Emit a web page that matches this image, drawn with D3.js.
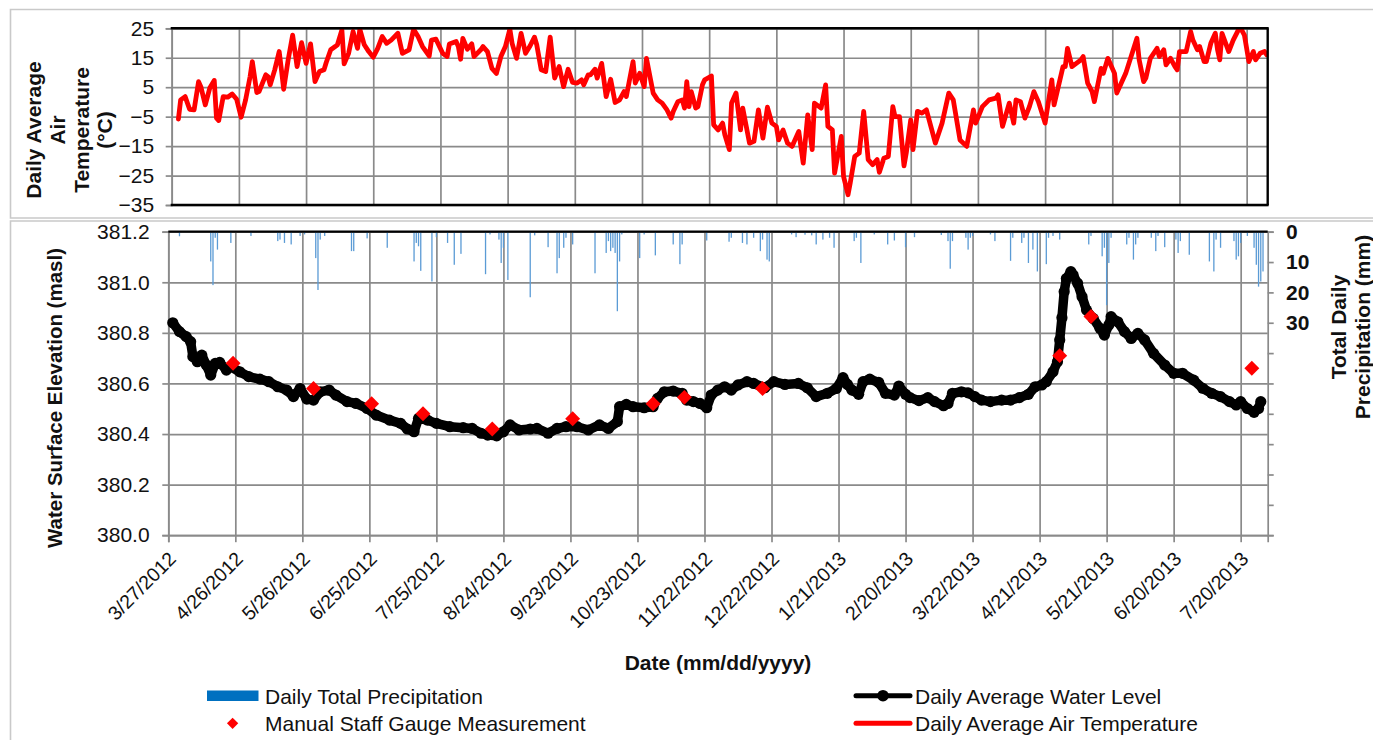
<!DOCTYPE html>
<html><head><meta charset="utf-8">
<script src="https://cdn.jsdelivr.net/npm/d3@7"></script>
<style>
html,body{margin:0;padding:0;background:#fff;}
svg{display:block;font-family:"Liberation Sans",Arial,sans-serif;}
</style></head><body>
<svg id="chart" width="1373" height="740"></svg>
<script>
// ---------------- DATA ----------------
const startDate = "3/27/2012";
const tickLabels = ["3/27/2012","4/26/2012","5/26/2012","6/25/2012","7/25/2012","8/24/2012","9/23/2012",
  "10/23/2012","11/22/2012","12/22/2012","1/21/2013","2/20/2013","3/22/2013","4/21/2013","5/21/2013",
  "6/20/2013","7/20/2013"];
const tempTicks = [25,15,5,-5,-15,-25,-35];
const levelTicks = [381.2,381.0,380.8,380.6,380.4,380.2,380.0];
const precipTicks = [0,10,20,30,40,50,60,70,80,90,100];
const precipLabelled = [0,10,20,30];

// Daily average air temperature (days after 3/27/2012, °C)
const tempDays = [3,4,6,8,10,12,13,15,17,19,
  20,21,23,25,27,29,31,33,35,36,
  38,39,42,43,44,46,48,49,50,52,
  54,56,58,60,62,64,66,68,69,71,
  73,74,76,77,79,81,83,84,86,88,
  90,92,94,96,98,101,103,106,108,110,
  112,115,116,118,121,123,124,127,128,129,
  130,132,134,135,138,139,141,143,145,147,
  149,151,152,154,156,158,160,162,163,165,
  167,169,171,173,175,177,179,181,183,184,
  186,187,189,190,192,194,196,198,200,202,
  203,206,207,209,211,212,215,217,219,221,
  223,224,226,228,229,230,231,232,234,235,
  237,238,241,242,244,246,247,249,250,252,
  254,255,258,260,262,264,266,268,270,271,
  273,275,277,280,282,284,286,287,290,292,
  293,295,296,299,300,302,303,305,307,309,
  311,313,315,316,318,320,322,323,325,327,
  328,330,331,333,335,337,341,344,347,349,
  352,355,358,359,362,365,368,369,371,374,
  376,377,379,381,383,385,387,390,393,394,
  398,399,400,402,406,407,409,411,412,415,
  416,418,421,422,426,431,432,434,435,437,
  440,441,443,444,446,448,449,450,453,455,
  456,458,459,461,462,464,466,467,468,469,
  472,474,477,479,481,483,484,486,488,489];
const tempValues = [-5.8,0.7,1.8,-2.5,-2.7,6.9,5.2,-1,4.7,7.3,
  -5.5,-6.3,1.8,1.6,2.7,0.9,-5.2,0.7,8.6,13.7,
  3.2,3.5,9.2,8.6,5.8,10.9,17.1,10.9,4.3,14.3,
  22.7,12,20.1,13.1,19.7,6.9,10.3,10.9,13.4,17.7,
  18.8,19.4,24.4,12.9,16.5,23.9,18.2,24.7,19.4,17.1,
  15.2,18.2,22.2,19.9,21,23.3,16.5,17.7,24.7,22.2,
  18.8,15.6,21,21.3,16.5,15.4,19.7,20.5,18.8,14.5,
  21.6,17.9,19.7,15.4,17.7,18.8,17.1,11.4,9.7,15.4,
  18.8,24.7,19.9,14.8,23.3,16.5,19,22,19.4,10.9,
  10.3,22,8.1,12,5.2,11.1,6.6,6.4,7.5,5.8,
  9.2,9.2,11.1,8.1,13.1,1.8,7.7,-0.2,0.7,3.5,
  1.8,13.7,6.4,9.7,5.2,14.8,3,0.7,-0.4,-2.5,
  -5.5,-3.2,0.1,0.7,-2.1,6.9,-1.6,3.5,-2.1,-1.6,
  5.8,7.5,8.8,-7.8,-9.5,-7.2,-11.2,-16.2,-0.4,3,
  -9.5,-2.1,-14,-13.4,-2.7,-12.3,-1.8,-7.2,-8.3,-12.9,
  -9.5,-14,-15.1,-10,-20.8,-4.4,-16.2,-0.4,-2.1,5.8,
  -8.3,-9.5,-24.2,-11.7,-25.3,-31.5,-27.5,-18.5,-17.4,-3.2,
  -19.6,-21.3,-19.6,-23.9,-19.1,-18.5,-1.6,-5,-5,-21.7,
  -17.4,-6.1,-16.2,-3.2,-3.8,-2.7,-14,-7.2,3,0.7,
  -12.9,-15.1,-2.7,-7.2,-1.6,0.7,1.3,2.4,-8.3,-0.4,
  -7.2,0.7,0.1,-5.5,-1.6,3.5,0.1,-7.2,7.5,-1,
  12,12,18.2,12,14.3,15.4,6.4,3.5,0.1,11.4,
  9.7,14.8,9.7,3,9.7,21.6,14.3,6.9,8.1,14.8,
  18.2,15.4,17.7,12.6,14.8,12,10.9,17.1,17.1,23.9,
  21,17.7,18.8,13.7,13.7,19.9,23.3,17.7,14.3,23.3,
  17.1,21,25.5,22.7,13.7,17.1,14.3,16.5,17.1,16];

// Daily average water level (days after 3/27/2012, masl)
const levelDays = [2,5,8,10,11,13,15,17,19,21,
  23,26,28,32,36,41,45,49,53,56,
  59,62,65,68,72,75,80,84,89,93,
  99,104,107,110,112,116,120,126,132,136,
  140,143,147,150,153,157,162,165,170,174,
  178,183,188,193,197,201,202,205,208,213,
  217,219,222,226,230,232,235,238,241,243,
  246,249,252,255,259,262,267,271,276,282,
  286,290,295,299,302,304,306,309,311,314,
  318,321,325,327,330,332,336,340,343,347,
  349,351,355,358,361,364,368,373,377,381,
  385,388,391,393,396,398,399,400,401,402,
  404,405,407,409,411,414,417,419,421,422,
  425,428,431,434,437,441,446,450,454,459,
  463,467,471,475,478,480,483,486,488,489];
const levelValues = [380.84,380.805,380.785,380.765,380.706,380.686,380.712,380.673,380.633,380.679,
  380.683,380.653,380.666,380.646,380.627,380.617,380.607,380.587,380.574,380.548,
  380.58,380.538,380.534,380.567,380.574,380.554,380.528,380.521,380.501,380.475,
  380.455,380.442,380.42,380.409,380.462,380.455,380.442,380.429,380.425,380.422,
  380.403,380.396,380.393,380.409,380.436,380.416,380.42,380.422,380.403,380.422,
  380.429,380.429,380.416,380.436,380.422,380.449,380.508,380.517,380.508,380.504,
  380.508,380.541,380.567,380.57,380.561,380.534,380.528,380.521,380.504,380.554,
  380.574,380.587,380.574,380.594,380.607,380.6,380.583,380.607,380.596,380.6,
  380.583,380.548,380.561,380.58,380.623,380.596,380.574,380.557,380.607,380.617,
  380.604,380.561,380.554,380.59,380.557,380.544,380.532,380.544,380.528,380.512,
  380.521,380.561,380.567,380.563,380.548,380.534,380.528,380.534,380.534,380.544,
  380.557,380.587,380.594,380.607,380.646,380.686,380.772,380.86,380.963,381.015,
  381.042,381.029,380.996,380.943,380.89,380.857,380.818,380.791,380.831,380.864,
  380.844,380.805,380.778,380.798,380.772,380.719,380.673,380.64,380.64,380.613,
  380.581,380.561,380.548,380.528,380.515,380.528,380.501,380.486,380.501,380.528];

// Manual staff gauge measurements
const gaugeDays = [29,65,91,114,145,181,217,231,266,399,413,485];
const gaugeValues = [380.68,380.58,380.52,380.48,380.42,380.46,380.52,380.545,380.58,380.71,380.865,380.66];

// Daily total precipitation (days after 3/27/2012, mm)
const precipDays = [5,19,20,21,22,28,37,49,50,52,
  55,59,61,66,67,68,70,82,83,89,
  98,101,110,111,112,113,118,120,125,128,
  131,142,144,148,149,150,152,162,164,170,
  174,175,177,178,181,191,196,197,198,199,
  200,201,202,203,211,213,218,226,229,230,
  241,251,252,257,259,262,265,266,268,269,
  279,281,285,288,290,293,296,298,307,308,
  310,316,322,325,330,334,346,349,350,351,
  357,358,359,360,368,370,377,378,382,383,
  385,387,389,393,394,396,399,412,413,418,
  419,420,421,422,429,430,432,433,434,440,
  442,443,446,451,452,453,457,466,468,469,
  471,477,478,479,480,483,486,487,488,489,490];
const precipValues = [1.5,9.8,17.6,2,5.9,3.7,1.4,3.1,2.6,3.7,
  4.2,1.4,0.9,8.7,19.2,2.6,1.4,6.4,6.4,2.2,
  5.3,0.3,9.8,3.7,4.8,12.9,16.4,1.8,3.7,10.9,
  7.3,14,0.9,2.6,10.3,5.3,15.9,21.6,1.2,5.1,
  13.7,8.7,5.3,2,4.2,13.7,7,3.1,6.4,5.3,
  7,26.2,9.8,0.9,8.7,0.9,7.8,4.2,10.7,4.2,
  2.9,3.3,2,3.7,4.2,2,6.4,2.6,9.2,9.8,
  0.9,1.8,1,1.2,4.2,2.6,2,5.3,3.1,2,
  10.3,0.9,4.2,2.9,5.1,1.8,1.1,3.1,12.2,3.1,
  2,5.9,2,1.4,0.9,3.1,9.6,2,3.7,2,
  10.3,5.9,13.1,10.7,2,1.4,2.6,4.2,1.4,8.1,
  5.3,24.2,10.3,2,4.2,2,9.2,4.2,2,2,
  6.4,1.4,5.1,2.6,7,3.1,7.6,9.8,13.1,2.6,
  5.3,3.1,9.2,8.1,3.7,1.4,5.3,10.9,18.1,16.4,13.1];

// ---------------- DRAWING ----------------
const svg = d3.select("#chart");
const parse = d3.utcParse("%m/%d/%Y");
const t0 = parse(startDate);
const dayDate = d => new Date(t0.getTime() + d * 864e5);
const tickDates = tickLabels.map(parse);

const P1 = {l:171.7, r:1267.7, t:28.3, b:205};
const P2 = {l:168.3, r:1267.7, t:231.7, b:535.2};
const xTop = d3.scaleUtc().domain([t0, dayDate(489.4)]).range([P1.l, P1.r]);
const xBot = d3.scaleUtc().domain([t0, dayDate(492.1)]).range([P2.l, P2.r]);
const yTemp = d3.scaleLinear().domain([-35, 25]).range([P1.b, P1.t]);
const yLevel = d3.scaleLinear().domain([380, 381.2]).range([P2.b, P2.t]);
const yPrecip = d3.scaleLinear().domain([0, 100]).range([P2.t, P2.b]);

const GRID = "#8a8a8a", FONT = 21, TXT = "#111";

// chart frames
svg.append("path").attr("d","M1373,9.5H10.5V218H1373").attr("fill","none").attr("stroke","#c9c9c9").attr("stroke-width",1.6);
svg.append("path").attr("d","M1373,221H10.5V740").attr("fill","none").attr("stroke","#c9c9c9").attr("stroke-width",1.6);

function styleGrid(g){
  g.select(".domain").remove();
  g.selectAll("line").attr("stroke", GRID).attr("stroke-width", 1.7);
}

// ---- top panel ----
svg.append("g").attr("transform",`translate(0,${P1.b})`)
  .call(d3.axisBottom(xTop).tickValues(tickDates).tickSize(-(P1.b-P1.t)).tickFormat(""))
  .call(styleGrid);
svg.append("g").attr("transform",`translate(${P1.l},0)`)
  .call(d3.axisLeft(yTemp).tickValues(tempTicks).tickSize(-(P1.r-P1.l)).tickFormat(""))
  .call(styleGrid);
const ayT = svg.append("g").attr("transform",`translate(${P1.l},0)`)
  .call(d3.axisLeft(yTemp).tickValues(tempTicks).tickSize(6).tickPadding(11.5).tickFormat(d3.format("d")));
ayT.select(".domain").attr("stroke", GRID).attr("stroke-width",1.7);
ayT.selectAll("line").attr("stroke", GRID).attr("stroke-width",1.7);
ayT.selectAll("text").attr("font-size",FONT).attr("fill",TXT).attr("font-family","Liberation Sans, Arial");

svg.append("clipPath").attr("id","clipTop").append("rect")
  .attr("x",P1.l).attr("y",P1.t-1).attr("width",P1.r-P1.l).attr("height",P1.b-P1.t+2);
const tempData = tempDays.map((d,i)=>({date:dayDate(d), v:tempValues[i]}));
svg.append("path").datum(tempData).attr("clip-path","url(#clipTop)")
  .attr("d", d3.line().x(d=>xTop(d.date)).y(d=>yTemp(d.v)))
  .attr("fill","none").attr("stroke","#ff0000").attr("stroke-width",4.8)
  .attr("stroke-linejoin","round").attr("stroke-linecap","round");

// top panel black borders
svg.append("g").selectAll("line").data([
  [P1.l-1,P1.t,P1.r+1,P1.t],[P1.l-1,P1.b,P1.r+1,P1.b],[P1.r,P1.t,P1.r,P1.b]
]).join("line").attr("x1",d=>d[0]).attr("y1",d=>d[1]).attr("x2",d=>d[2]).attr("y2",d=>d[3])
  .attr("stroke","#000").attr("stroke-width",2.4);

// ---- bottom panel ----
svg.append("g").attr("transform",`translate(0,${P2.b})`)
  .call(d3.axisBottom(xBot).tickValues(tickDates).tickSize(-(P2.b-P2.t)).tickFormat(""))
  .call(styleGrid);
svg.append("g").attr("transform",`translate(${P2.l},0)`)
  .call(d3.axisLeft(yLevel).tickValues(levelTicks).tickSize(-(P2.r-P2.l)).tickFormat(""))
  .call(styleGrid);

// left axis
const ayL = svg.append("g").attr("transform",`translate(${P2.l},0)`)
  .call(d3.axisLeft(yLevel).tickValues(levelTicks).tickSize(6).tickPadding(12.7).tickFormat(d3.format(".1f")));
ayL.select(".domain").attr("stroke", GRID).attr("stroke-width",1.7);
ayL.selectAll("line").attr("stroke", GRID).attr("stroke-width",1.7);
ayL.selectAll("text").attr("font-size",FONT).attr("fill",TXT).attr("font-family","Liberation Sans, Arial");

// right axis (precipitation, reversed)
const ayR = svg.append("g").attr("transform",`translate(${P2.r},0)`)
  .call(d3.axisRight(yPrecip).tickValues(precipTicks).tickSize(6).tickPadding(12.3)
    .tickFormat(d => precipLabelled.includes(d) ? d : ""));
ayR.select(".domain").attr("stroke", GRID).attr("stroke-width",1.7);
ayR.selectAll("line").attr("stroke", GRID).attr("stroke-width",1.7);
ayR.selectAll("text").attr("font-size",FONT).attr("font-weight","bold").attr("fill",TXT).attr("font-family","Liberation Sans, Arial");

// bottom axis
const axB = svg.append("g").attr("transform",`translate(0,${P2.b})`)
  .call(d3.axisBottom(xBot).tickValues(tickDates).tickSize(7).tickFormat(""));
axB.select(".domain").attr("stroke", GRID).attr("stroke-width",1.7);
axB.selectAll("line").attr("stroke", GRID).attr("stroke-width",1.7);
svg.append("g").selectAll("text").data(tickLabels).join("text")
  .attr("transform",(d,i)=>`translate(${xBot(tickDates[i])-1},${P2.b+15}) rotate(-45)`)
  .attr("text-anchor","end").attr("dy","0.72em")
  .attr("font-size",19.5).attr("fill",TXT).text(d=>d);

// precipitation bars
svg.append("g").selectAll("rect").data(precipDays).join("rect")
  .attr("x", d => xBot(dayDate(d)) - 0.65).attr("width", 1.3)
  .attr("y", P2.t).attr("height", (d,i) => yPrecip(precipValues[i]) - P2.t)
  .attr("fill", "#5b9bd5");

// top black line of bottom panel
svg.append("line").attr("x1",P2.l).attr("x2",P2.r).attr("y1",P2.t).attr("y2",P2.t)
  .attr("stroke","#000").attr("stroke-width",2.2);

// water level
const levelData = levelDays.map((d,i)=>({date:dayDate(d), v:levelValues[i]}));
svg.append("path").datum(levelData)
  .attr("d", d3.line().x(d=>xBot(d.date)).y(d=>yLevel(d.v)))
  .attr("fill","none").attr("stroke","#000").attr("stroke-width",9.5)
  .attr("stroke-linejoin","round").attr("stroke-linecap","round");
svg.append("g").selectAll("circle").data(levelData).join("circle")
  .attr("cx",d=>xBot(d.date)).attr("cy",d=>yLevel(d.v)).attr("r",5.6).attr("fill","#000");

// staff gauge diamonds
const diamond = d3.symbol(d3.symbolSquare, 112);
svg.append("g").selectAll("path").data(gaugeDays).join("path")
  .attr("transform",(d,i)=>`translate(${xBot(dayDate(d))},${yLevel(gaugeValues[i])}) rotate(45)`)
  .attr("d", diamond).attr("fill","#ff0000");

// ---- titles ----
const tl = ["Daily Average","Air","Temperature","(°C)"];
svg.append("g").selectAll("text").data(tl).join("text")
  .attr("transform",(d,i)=>`translate(${33.5+i*23.8},130) rotate(-90)`)
  .attr("text-anchor","middle").attr("dominant-baseline","central")
  .attr("font-size",21).attr("font-weight","bold").attr("fill",TXT).text(d=>d);
svg.append("text").attr("transform","translate(54,398) rotate(-90)")
  .attr("text-anchor","middle").attr("dominant-baseline","central")
  .attr("font-size",20.5).attr("font-weight","bold").attr("fill",TXT).text("Water Surface Elevation (masl)");
const rl = ["Total Daily","Precipitation (mm)"];
svg.append("g").selectAll("text").data(rl).join("text")
  .attr("transform",(d,i)=>`translate(${1338+i*24},327) rotate(-90)`)
  .attr("text-anchor","middle").attr("dominant-baseline","central")
  .attr("font-size",21).attr("font-weight","bold").attr("fill",TXT).text(d=>d);
svg.append("text").attr("x",(P2.l+P2.r)/2).attr("y",662)
  .attr("text-anchor","middle").attr("dominant-baseline","central")
  .attr("font-size",21).attr("font-weight","bold").attr("fill",TXT).text("Date (mm/dd/yyyy)");

// ---- legend ----
const lg = svg.append("g");
lg.append("rect").attr("x",207).attr("y",690.5).attr("width",51.5).attr("height",10.5).attr("fill","#0070c0");
lg.append("path").attr("transform","translate(232.6,723.3) rotate(45)")
  .attr("d", d3.symbol(d3.symbolSquare, 64)).attr("fill","#ff0000");
lg.append("line").attr("x1",856).attr("x2",910).attr("y1",695.7).attr("y2",695.7)
  .attr("stroke","#000").attr("stroke-width",5).attr("stroke-linecap","round");
lg.append("circle").attr("cx",883).attr("cy",695.7).attr("r",5.8).attr("fill","#000");
lg.append("line").attr("x1",856).attr("x2",910).attr("y1",723.3).attr("y2",723.3)
  .attr("stroke","#ff0000").attr("stroke-width",5).attr("stroke-linecap","round");
const legendText = [
  {x:265, y:696, t:"Daily Total Precipitation"},
  {x:265, y:723.5, t:"Manual Staff Gauge Measurement"},
  {x:915, y:696, t:"Daily Average Water Level"},
  {x:915, y:723.5, t:"Daily Average Air Temperature"}];
lg.selectAll("text").data(legendText).join("text")
  .attr("x",d=>d.x).attr("y",d=>d.y).attr("dominant-baseline","central")
  .attr("font-size",21).attr("fill",TXT).text(d=>d.t);
</script>
</body></html>
